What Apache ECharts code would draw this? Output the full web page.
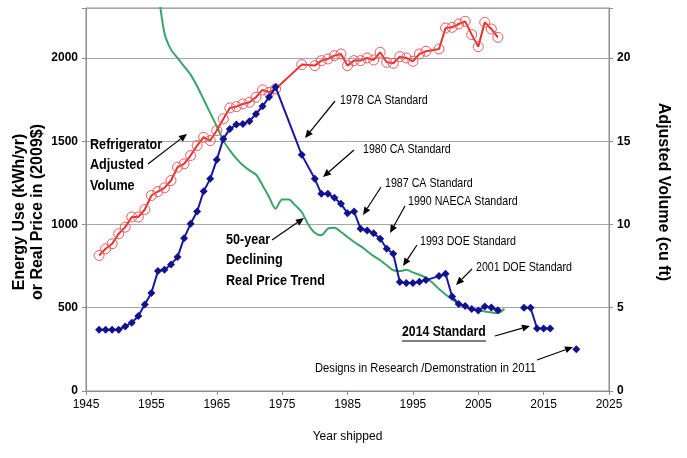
<!DOCTYPE html>
<html><head><meta charset="utf-8">
<script src="https://cdn.jsdelivr.net/npm/echarts@6/dist/echarts.min.js"></script>
<style>html,body{margin:0;padding:0;background:#fff}#c{width:687px;height:458px}</style>
</head><body><div id="c"></div>
<script>
// ---- data ----
const energyYears = [1947,1948,1949,1950,1951,1952,1953,1954,1955,1956,1957,1958,1959,1960,1961,1962,1963,1964,1965,1966,1967,1968,1969,1970,1971,1972,1973,1974,1978,1980,1981,1982,1983,1984,1985,1986,1987,1988,1989,1990,1991,1992,1993,1994,1995,1996,1997,1999,2000,2001,2002,2003,2004,2005,2006,2007,2008,2010,2012,2013,2014,2015,2016];
const energyUse   = [368,368,368,368,388,410,450,520,588,720,728,760,804,918,1004,1078,1200,1274,1388,1514,1574,1600,1604,1620,1664,1710,1765,1825,1418,1274,1184,1184,1160,1124,1068,1078,974,964,948,914,854,824,654,648,648,656,666,690,704,568,522,510,492,483,507,501,485,null,500,500,375,375,375];
const demoYears = [2020];
const demoUse   = [250];

const volumeYears = [1947,1948,1949,1950,1951,1952,1953,1954,1955,1956,1957,1958,1959,1960,1961,1962,1963,1964,1965,1966,1967,1968,1969,1970,1971,1972,1973,1974,1978,1980,1981,1982,1983,1984,1985,1986,1987,1988,1989,1990,1991,1992,1993,1994,1995,1996,1997,1999,2000,2001,2002,2003,2004,2005,2006,2007,2008];
const volumeCuFt  = [8.14,8.54,8.84,9.44,9.84,10.45,10.45,10.9,11.74,11.98,12.2,12.64,13.44,13.64,14.14,14.74,15.24,15.04,15.64,16.34,17.0,17.08,17.24,17.34,17.64,18.08,17.94,18.14,19.6,19.54,19.84,19.94,20.14,20.24,19.54,19.84,19.84,20.0,19.88,20.34,19.74,19.68,20.08,20.0,19.8,20.24,20.4,20.54,21.8,21.84,22.04,22.2,21.4,20.68,22.14,21.74,21.24];

const priceYears = [1956,1957,1958,1959,1960,1961,1962,1963,1964,1965,1966,1967,1968,1969,1970,1971,1972,1973,1974,1975,1976,1977,1978,1979,1980,1981,1982,1983,1984,1985,1986,1987,1988,1989,1990,1991,1992,1993,1994,1995,1996,1997,1998,1999,2000,2001,2002,2003,2004,2005,2006,2007,2008,2009];
const realPrice  = [2420,2150,2050,2000,1950,1900,1830,1750,1670,1590,1505,1445,1395,1355,1325,1300,1235,1165,1095,1150,1150,1115,1075,1000,950,935,975,980,955,925,895,870,840,810,785,755,725,720,728,712,698,680,650,612,580,550,522,505,492,484,478,472,468,494];

const xTicks = {min:1945, max:2025, step:10};
const leftTicks = {min:0, max:2300, step:500};
const rightTicks = {min:0, max:23, step:5};

// ---- annotations (pixel layout) ----
const notes = [
  {text:'1978 CA Standard', x:340, y:100, from:[335,101], to:[305,138]},
  {text:'1980 CA Standard', x:363, y:149, from:[354,150], to:[323,177]},
  {text:'1987 CA Standard', x:385, y:183, from:[381,187], to:[363,215]},
  {text:'1990 NAECA Standard', x:408, y:201, from:[405,206], to:[390,233]},
  {text:'1993 DOE Standard', x:420, y:241, from:[417,245], to:[403,266]},
  {text:'2001 DOE Standard', x:476, y:267, from:[472,269], to:[456,285]},
  {text:'Designs in Research /Demonstration in 2011', x:315, y:368, sx:0.86, from:[537,360], to:[573,347]},
  {text:'2014 Standard', x:402, y:332, bold:true, size:14.5, sx:0.845, underline:84, from:[495,336], to:[530,326]},
  {text:'Refrigerator\nAdjusted\nVolume', x:90, y:165, bold:true, size:14.5, sx:0.87, lh:20.5, from:[148,164], to:[187,134]},
  {text:'50-year\nDeclining\nReal Price Trend', x:226, y:260, bold:true, size:14.5, sx:0.87, lh:20.5, from:[272,240], to:[304,218]}
];

const chart = echarts.init(document.getElementById('c'), null, {renderer:'canvas'});
const pair = (xs, ys) => xs.map((x,i)=>[x, ys[i]]);

function arrow(from, to){
  const dx = to[0]-from[0], dy = to[1]-from[1];
  const L = Math.hypot(dx,dy), ux = dx/L, uy = dy/L;
  const hl = 8, hw = 3.5;
  const bx = to[0]-ux*hl, by = to[1]-uy*hl;
  return [
    {type:'line', shape:{x1:from[0], y1:from[1], x2:bx, y2:by}, style:{stroke:'#000', lineWidth:1.2}, z:100},
    {type:'polygon', shape:{points:[[to[0],to[1]],[bx-uy*hw,by+ux*hw],[bx+uy*hw,by-ux*hw]]}, style:{fill:'#000'}, z:100}
  ];
}

const graphics = [];
notes.forEach(n=>{
  graphics.push({type:'text', x:n.x, y:n.y, scaleX:n.sx||0.82, style:{
    text:n.text, x:0, y:0, fill:'#000',
    font:(n.bold?'bold ':'')+(n.size||13)+'px "Liberation Sans", Arial, sans-serif',
    textVerticalAlign:'middle', textAlign:'left', lineHeight:n.lh||14
  }, z:100});
  if(n.underline){
    graphics.push({type:'line', shape:{x1:n.x, y1:n.y+9, x2:n.x+n.underline, y2:n.y+9}, style:{stroke:'#000', lineWidth:1}, z:100});
  }
  graphics.push(...arrow(n.from, n.to));
});
// axis titles
const titleFont = 'bold 16px "Liberation Sans", Arial, sans-serif';
graphics.push({type:'text', x:20, y:212, rotation:Math.PI/2, style:{text:'Energy Use (kWh/yr)', font:titleFont, fill:'#000', textAlign:'center', textVerticalAlign:'middle'}});
graphics.push({type:'text', x:38, y:212, rotation:Math.PI/2, style:{text:'or Real Price in (2009$)', font:titleFont, fill:'#000', textAlign:'center', textVerticalAlign:'middle'}});
graphics.push({type:'text', x:663, y:192, rotation:-Math.PI/2, style:{text:'Adjusted Volume (cu ft)', font:titleFont, fill:'#000', textAlign:'center', textVerticalAlign:'middle'}});

const option = {
  animation:false,
  backgroundColor:'#fff',
  grid:{left:86, right:78, top:8, bottom:67, show:true, borderColor:'#8c8c8c', borderWidth:1, containLabel:false},
  xAxis:{type:'value', min:xTicks.min, max:xTicks.max, interval:xTicks.step,
    name:'Year shipped', nameLocation:'middle', nameGap:40,
    nameTextStyle:{fontFamily:'"Liberation Sans", Arial, sans-serif', fontSize:12, color:'#000'},
    axisLine:{show:true, lineStyle:{color:'#8c8c8c'}},
    axisTick:{show:true, length:4, lineStyle:{color:'#8c8c8c'}},
    axisLabel:{color:'#000', fontSize:12, fontFamily:'"Liberation Sans", Arial, sans-serif', margin:8, showMaxLabel:true, showMinLabel:true, formatter:v=>String(v)},
    splitLine:{show:false}},
  yAxis:[
    {type:'value', min:leftTicks.min, max:leftTicks.max, interval:leftTicks.step, position:'left',
     axisLine:{show:true, lineStyle:{color:'#8c8c8c'}},
     axisTick:{show:true, length:4, lineStyle:{color:'#8c8c8c'}},
     axisLabel:{color:'#000', fontWeight:'bold', fontSize:12, fontFamily:'"Liberation Sans", Arial, sans-serif', margin:8, formatter:v=> v>2000?'':String(v)},
     splitLine:{show:true, lineStyle:{color:'#a6a6a6', width:1}}},
    {type:'value', min:rightTicks.min, max:rightTicks.max, interval:rightTicks.step, position:'right',
     axisLine:{show:true, lineStyle:{color:'#8c8c8c'}},
     axisTick:{show:true, length:4, lineStyle:{color:'#8c8c8c'}},
     axisLabel:{color:'#000', fontWeight:'bold', fontSize:12, fontFamily:'"Liberation Sans", Arial, sans-serif', margin:8, formatter:v=> v>20?'':String(v)},
     splitLine:{show:false}}
  ],
  series:[
    {type:'line', name:'Real Price', data:pair(priceYears, realPrice), yAxisIndex:0, smooth:0.3, showSymbol:false, symbol:'none',
     lineStyle:{color:'#3aa469', width:2}, clip:true, z:2},
    {type:'line', name:'Adjusted Volume', data:pair(volumeYears, volumeCuFt), yAxisIndex:1, symbol:'circle', symbolSize:10,
     lineStyle:{color:'#e8312f', width:2}, itemStyle:{color:'rgba(0,0,0,0)', borderColor:'#e8595a', borderWidth:1}, z:3},
    {type:'line', name:'Energy Use', data:pair(energyYears, energyUse), yAxisIndex:0, symbol:'diamond', symbolSize:8, connectNulls:false,
     lineStyle:{color:'#1a1a9c', width:2}, itemStyle:{color:'#12128f'}, z:4},
    {type:'scatter', name:'Demonstration', data:pair(demoYears, demoUse), yAxisIndex:0, symbol:'diamond', symbolSize:8,
     itemStyle:{color:'#12128f', opacity:1}, z:4}
  ],
  graphic:graphics
};
chart.setOption(option);
</script>
</body></html>
